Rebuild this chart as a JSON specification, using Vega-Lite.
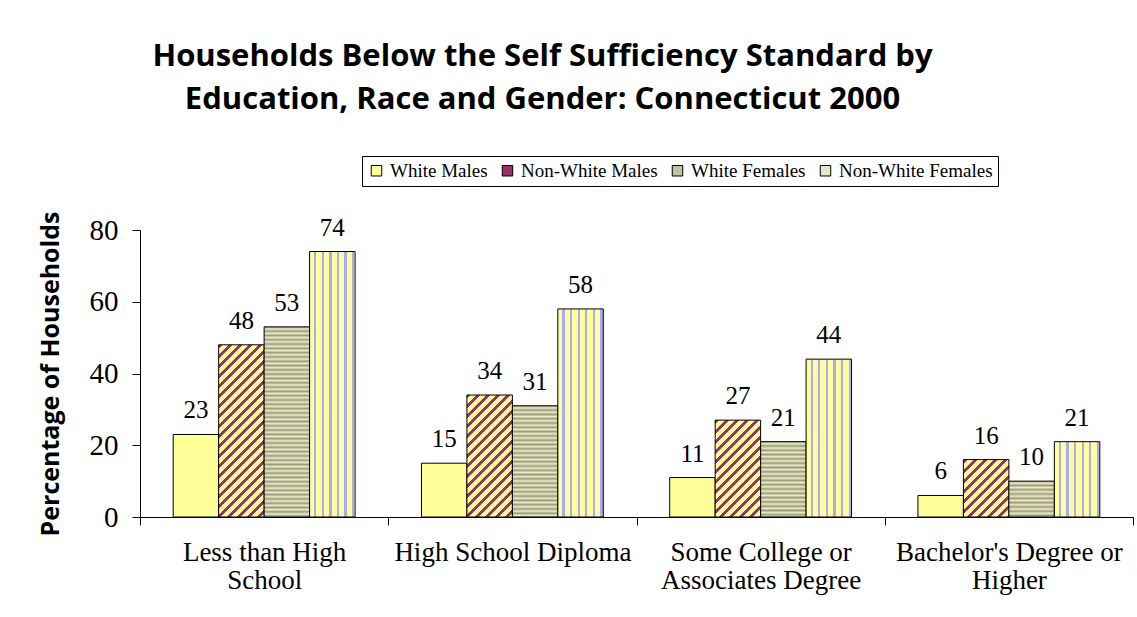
{
"$schema":"https://vega.github.io/schema/vega-lite/v6.json",
"width":993,"height":287,
"autosize":{"type":"none"},
"padding":{"left":140,"top":230,"right":4,"bottom":100},
"background":"white",
"title":{"text":["Households Below the Self Sufficiency Standard by","Education, Race and Gender: Connecticut 2000"],"anchor":"middle","dx":-94,"font":"Open Sans","fontSize":31,"fontWeight":"bold","color":"black","lineHeight":43,"offset":40},
"data":{"values":[
{"education":"Less than High School","group":"White Males","percent":23},
{"education":"Less than High School","group":"Non-White Males","percent":48},
{"education":"Less than High School","group":"White Females","percent":53},
{"education":"Less than High School","group":"Non-White Females","percent":74},
{"education":"High School Diploma","group":"White Males","percent":15},
{"education":"High School Diploma","group":"Non-White Males","percent":34},
{"education":"High School Diploma","group":"White Females","percent":31},
{"education":"High School Diploma","group":"Non-White Females","percent":58},
{"education":"Some College or Associates Degree","group":"White Males","percent":11},
{"education":"Some College or Associates Degree","group":"Non-White Males","percent":27},
{"education":"Some College or Associates Degree","group":"White Females","percent":21},
{"education":"Some College or Associates Degree","group":"Non-White Females","percent":44},
{"education":"Bachelor's Degree or Higher","group":"White Males","percent":6},
{"education":"Bachelor's Degree or Higher","group":"Non-White Males","percent":16},
{"education":"Bachelor's Degree or Higher","group":"White Females","percent":10},
{"education":"Bachelor's Degree or Higher","group":"Non-White Females","percent":21}
]},
"encoding":{
"x":{"field":"education","type":"nominal","sort":["Less than High School","High School Diploma","Some College or Associates Degree","Bachelor's Degree or Higher"],"scale":{"paddingInner":0,"paddingOuter":0},"axis":{"title":null,"labelAngle":0,"tickBand":"extent","labelExpr":"datum.label==='Less than High School'?['Less than High','School']:datum.label==='Some College or Associates Degree'?['Some College or','Associates Degree']:datum.label===\"Bachelor's Degree or Higher\"?[\"Bachelor's Degree or\",'Higher']:datum.label","labelFont":"Liberation Serif","labelFontSize":27,"labelLineHeight":28,"labelColor":"black","labelPadding":14,"labelLimit":0,"tickSize":8,"tickColor":"black","domainColor":"black"}},
"xOffset":{"field":"group","type":"nominal","sort":["White Males","Non-White Males","White Females","Non-White Females"],"scale":{"paddingInner":0,"paddingOuter":0.73}},
"y":{"field":"percent","type":"quantitative","scale":{"domain":[0,80]},"axis":{"values":[0,20,40,60,80],"grid":false,"title":"Percentage of Households","titleFont":"Open Sans","titleFontSize":25,"titleFontWeight":"bold","titleColor":"black","titlePadding":26,"labelFont":"Liberation Serif","labelFontSize":29,"labelColor":"black","labelPadding":14,"tickSize":8,"tickColor":"black","domainColor":"black"}}
},
"layer":[
{"mark":{"type":"bar","stroke":"black","strokeWidth":1},
"encoding":{"fill":{"field":"group","type":"nominal","scale":{"domain":["White Males","Non-White Males","White Females","Non-White Females"],"range":["#ffff99","#993366","#c3c3a1","#e6e6c8"]},
"legend":{"orient":"none","legendX":222,"legendY":-74,"direction":"horizontal","title":null,"strokeColor":"black","fillColor":"white","padding":5,"symbolType":"square","symbolSize":110,"symbolStrokeColor":"black","symbolStrokeWidth":1,"symbolOpacity":1,"labelFont":"Liberation Serif","labelFontSize":19,"labelColor":"black","labelOffset":4,"columnPadding":10},
"condition":[
{"test":"datum.group==='Non-White Females'","value":{"gradient":"linear","x1":0,"y1":0,"x2":1,"y2":0,"stops":[{"offset":0,"color":"#ff9"},{"offset":0.1,"color":"#ff9"},{"offset":0.1,"color":"#aaf"},{"offset":0.15,"color":"#aaf"},{"offset":0.15,"color":"#ff9"},{"offset":0.2667,"color":"#ff9"},{"offset":0.2667,"color":"#aaf"},{"offset":0.3167,"color":"#aaf"},{"offset":0.3167,"color":"#ff9"},{"offset":0.4333,"color":"#ff9"},{"offset":0.4333,"color":"#aaf"},{"offset":0.4833,"color":"#aaf"},{"offset":0.4833,"color":"#ff9"},{"offset":0.6,"color":"#ff9"},{"offset":0.6,"color":"#aaf"},{"offset":0.65,"color":"#aaf"},{"offset":0.65,"color":"#ff9"},{"offset":0.7667,"color":"#ff9"},{"offset":0.7667,"color":"#aaf"},{"offset":0.8167,"color":"#aaf"},{"offset":0.8167,"color":"#ff9"},{"offset":0.9333,"color":"#ff9"},{"offset":0.9333,"color":"#aaf"},{"offset":0.9833,"color":"#aaf"},{"offset":0.9833,"color":"#ff9"},{"offset":1,"color":"#ff9"}]}},
{"test":"datum.group==='Non-White Males'&&datum.percent===48","value":{"gradient":"linear","x1":0,"y1":0,"x2":0.358,"y2":1.357,"stops":[
{"offset":0,"color":"#936"},{"offset":0.016,"color":"#936"},{"offset":0.016,"color":"#ff9"},{"offset":0.04,"color":"#ff9"},
{"offset":0.04,"color":"#936"},{"offset":0.056,"color":"#936"},{"offset":0.056,"color":"#ff9"},{"offset":0.08,"color":"#ff9"},
{"offset":0.08,"color":"#936"},{"offset":0.096,"color":"#936"},{"offset":0.096,"color":"#ff9"},{"offset":0.12,"color":"#ff9"},
{"offset":0.12,"color":"#936"},{"offset":0.136,"color":"#936"},{"offset":0.136,"color":"#ff9"},{"offset":0.16,"color":"#ff9"},
{"offset":0.16,"color":"#936"},{"offset":0.176,"color":"#936"},{"offset":0.176,"color":"#ff9"},{"offset":0.2,"color":"#ff9"},
{"offset":0.2,"color":"#936"},{"offset":0.216,"color":"#936"},{"offset":0.216,"color":"#ff9"},{"offset":0.24,"color":"#ff9"},
{"offset":0.24,"color":"#936"},{"offset":0.256,"color":"#936"},{"offset":0.256,"color":"#ff9"},{"offset":0.28,"color":"#ff9"},
{"offset":0.28,"color":"#936"},{"offset":0.296,"color":"#936"},{"offset":0.296,"color":"#ff9"},{"offset":0.32,"color":"#ff9"},
{"offset":0.32,"color":"#936"},{"offset":0.336,"color":"#936"},{"offset":0.336,"color":"#ff9"},{"offset":0.36,"color":"#ff9"},
{"offset":0.36,"color":"#936"},{"offset":0.376,"color":"#936"},{"offset":0.376,"color":"#ff9"},{"offset":0.4,"color":"#ff9"},
{"offset":0.4,"color":"#936"},{"offset":0.416,"color":"#936"},{"offset":0.416,"color":"#ff9"},{"offset":0.44,"color":"#ff9"},
{"offset":0.44,"color":"#936"},{"offset":0.456,"color":"#936"},{"offset":0.456,"color":"#ff9"},{"offset":0.48,"color":"#ff9"},
{"offset":0.48,"color":"#936"},{"offset":0.496,"color":"#936"},{"offset":0.496,"color":"#ff9"},{"offset":0.52,"color":"#ff9"},
{"offset":0.52,"color":"#936"},{"offset":0.536,"color":"#936"},{"offset":0.536,"color":"#ff9"},{"offset":0.56,"color":"#ff9"},
{"offset":0.56,"color":"#936"},{"offset":0.576,"color":"#936"},{"offset":0.576,"color":"#ff9"},{"offset":0.6,"color":"#ff9"},
{"offset":0.6,"color":"#936"},{"offset":0.616,"color":"#936"},{"offset":0.616,"color":"#ff9"},{"offset":0.64,"color":"#ff9"},
{"offset":0.64,"color":"#936"},{"offset":0.656,"color":"#936"},{"offset":0.656,"color":"#ff9"},{"offset":0.68,"color":"#ff9"},
{"offset":0.68,"color":"#936"},{"offset":0.696,"color":"#936"},{"offset":0.696,"color":"#ff9"},{"offset":0.72,"color":"#ff9"},
{"offset":0.72,"color":"#936"},{"offset":0.736,"color":"#936"},{"offset":0.736,"color":"#ff9"},{"offset":0.76,"color":"#ff9"},
{"offset":0.76,"color":"#936"},{"offset":0.776,"color":"#936"},{"offset":0.776,"color":"#ff9"},{"offset":0.8,"color":"#ff9"},
{"offset":0.8,"color":"#936"},{"offset":0.816,"color":"#936"},{"offset":0.816,"color":"#ff9"},{"offset":0.84,"color":"#ff9"},
{"offset":0.84,"color":"#936"},{"offset":0.856,"color":"#936"},{"offset":0.856,"color":"#ff9"},{"offset":0.88,"color":"#ff9"}]}},
{"test":"datum.group==='Non-White Males'&&datum.percent===34","value":{"gradient":"linear","x1":0,"y1":0,"x2":0.67,"y2":1.8,"stops":[
{"offset":0,"color":"#936"},{"offset":0.016,"color":"#936"},{"offset":0.016,"color":"#ff9"},{"offset":0.04,"color":"#ff9"},
{"offset":0.04,"color":"#936"},{"offset":0.056,"color":"#936"},{"offset":0.056,"color":"#ff9"},{"offset":0.08,"color":"#ff9"},
{"offset":0.08,"color":"#936"},{"offset":0.096,"color":"#936"},{"offset":0.096,"color":"#ff9"},{"offset":0.12,"color":"#ff9"},
{"offset":0.12,"color":"#936"},{"offset":0.136,"color":"#936"},{"offset":0.136,"color":"#ff9"},{"offset":0.16,"color":"#ff9"},
{"offset":0.16,"color":"#936"},{"offset":0.176,"color":"#936"},{"offset":0.176,"color":"#ff9"},{"offset":0.2,"color":"#ff9"},
{"offset":0.2,"color":"#936"},{"offset":0.216,"color":"#936"},{"offset":0.216,"color":"#ff9"},{"offset":0.24,"color":"#ff9"},
{"offset":0.24,"color":"#936"},{"offset":0.256,"color":"#936"},{"offset":0.256,"color":"#ff9"},{"offset":0.28,"color":"#ff9"},
{"offset":0.28,"color":"#936"},{"offset":0.296,"color":"#936"},{"offset":0.296,"color":"#ff9"},{"offset":0.32,"color":"#ff9"},
{"offset":0.32,"color":"#936"},{"offset":0.336,"color":"#936"},{"offset":0.336,"color":"#ff9"},{"offset":0.36,"color":"#ff9"},
{"offset":0.36,"color":"#936"},{"offset":0.376,"color":"#936"},{"offset":0.376,"color":"#ff9"},{"offset":0.4,"color":"#ff9"},
{"offset":0.4,"color":"#936"},{"offset":0.416,"color":"#936"},{"offset":0.416,"color":"#ff9"},{"offset":0.44,"color":"#ff9"},
{"offset":0.44,"color":"#936"},{"offset":0.456,"color":"#936"},{"offset":0.456,"color":"#ff9"},{"offset":0.48,"color":"#ff9"},
{"offset":0.48,"color":"#936"},{"offset":0.496,"color":"#936"},{"offset":0.496,"color":"#ff9"},{"offset":0.52,"color":"#ff9"},
{"offset":0.52,"color":"#936"},{"offset":0.536,"color":"#936"},{"offset":0.536,"color":"#ff9"},{"offset":0.56,"color":"#ff9"},
{"offset":0.56,"color":"#936"},{"offset":0.576,"color":"#936"},{"offset":0.576,"color":"#ff9"},{"offset":0.6,"color":"#ff9"},
{"offset":0.6,"color":"#936"},{"offset":0.616,"color":"#936"},{"offset":0.616,"color":"#ff9"},{"offset":0.64,"color":"#ff9"},
{"offset":0.64,"color":"#936"},{"offset":0.656,"color":"#936"},{"offset":0.656,"color":"#ff9"},{"offset":0.68,"color":"#ff9"}]}},
{"test":"datum.group==='Non-White Males'&&datum.percent===27","value":{"gradient":"linear","x1":0,"y1":0,"x2":0.991,"y2":2.116,"stops":[
{"offset":0,"color":"#936"},{"offset":0.016,"color":"#936"},{"offset":0.016,"color":"#ff9"},{"offset":0.04,"color":"#ff9"},
{"offset":0.04,"color":"#936"},{"offset":0.056,"color":"#936"},{"offset":0.056,"color":"#ff9"},{"offset":0.08,"color":"#ff9"},
{"offset":0.08,"color":"#936"},{"offset":0.096,"color":"#936"},{"offset":0.096,"color":"#ff9"},{"offset":0.12,"color":"#ff9"},
{"offset":0.12,"color":"#936"},{"offset":0.136,"color":"#936"},{"offset":0.136,"color":"#ff9"},{"offset":0.16,"color":"#ff9"},
{"offset":0.16,"color":"#936"},{"offset":0.176,"color":"#936"},{"offset":0.176,"color":"#ff9"},{"offset":0.2,"color":"#ff9"},
{"offset":0.2,"color":"#936"},{"offset":0.216,"color":"#936"},{"offset":0.216,"color":"#ff9"},{"offset":0.24,"color":"#ff9"},
{"offset":0.24,"color":"#936"},{"offset":0.256,"color":"#936"},{"offset":0.256,"color":"#ff9"},{"offset":0.28,"color":"#ff9"},
{"offset":0.28,"color":"#936"},{"offset":0.296,"color":"#936"},{"offset":0.296,"color":"#ff9"},{"offset":0.32,"color":"#ff9"},
{"offset":0.32,"color":"#936"},{"offset":0.336,"color":"#936"},{"offset":0.336,"color":"#ff9"},{"offset":0.36,"color":"#ff9"},
{"offset":0.36,"color":"#936"},{"offset":0.376,"color":"#936"},{"offset":0.376,"color":"#ff9"},{"offset":0.4,"color":"#ff9"},
{"offset":0.4,"color":"#936"},{"offset":0.416,"color":"#936"},{"offset":0.416,"color":"#ff9"},{"offset":0.44,"color":"#ff9"},
{"offset":0.44,"color":"#936"},{"offset":0.456,"color":"#936"},{"offset":0.456,"color":"#ff9"},{"offset":0.48,"color":"#ff9"},
{"offset":0.48,"color":"#936"},{"offset":0.496,"color":"#936"},{"offset":0.496,"color":"#ff9"},{"offset":0.52,"color":"#ff9"},
{"offset":0.52,"color":"#936"},{"offset":0.536,"color":"#936"},{"offset":0.536,"color":"#ff9"},{"offset":0.56,"color":"#ff9"},
{"offset":0.56,"color":"#936"},{"offset":0.576,"color":"#936"},{"offset":0.576,"color":"#ff9"},{"offset":0.6,"color":"#ff9"}]}},
{"test":"datum.group==='Non-White Males'&&datum.percent===16","value":{"gradient":"linear","x1":0,"y1":0,"x2":2.119,"y2":2.679,"stops":[
{"offset":0,"color":"#936"},{"offset":0.016,"color":"#936"},{"offset":0.016,"color":"#ff9"},{"offset":0.04,"color":"#ff9"},
{"offset":0.04,"color":"#936"},{"offset":0.056,"color":"#936"},{"offset":0.056,"color":"#ff9"},{"offset":0.08,"color":"#ff9"},
{"offset":0.08,"color":"#936"},{"offset":0.096,"color":"#936"},{"offset":0.096,"color":"#ff9"},{"offset":0.12,"color":"#ff9"},
{"offset":0.12,"color":"#936"},{"offset":0.136,"color":"#936"},{"offset":0.136,"color":"#ff9"},{"offset":0.16,"color":"#ff9"},
{"offset":0.16,"color":"#936"},{"offset":0.176,"color":"#936"},{"offset":0.176,"color":"#ff9"},{"offset":0.2,"color":"#ff9"},
{"offset":0.2,"color":"#936"},{"offset":0.216,"color":"#936"},{"offset":0.216,"color":"#ff9"},{"offset":0.24,"color":"#ff9"},
{"offset":0.24,"color":"#936"},{"offset":0.256,"color":"#936"},{"offset":0.256,"color":"#ff9"},{"offset":0.28,"color":"#ff9"},
{"offset":0.28,"color":"#936"},{"offset":0.296,"color":"#936"},{"offset":0.296,"color":"#ff9"},{"offset":0.32,"color":"#ff9"},
{"offset":0.32,"color":"#936"},{"offset":0.336,"color":"#936"},{"offset":0.336,"color":"#ff9"},{"offset":0.36,"color":"#ff9"},
{"offset":0.36,"color":"#936"},{"offset":0.376,"color":"#936"},{"offset":0.376,"color":"#ff9"},{"offset":0.4,"color":"#ff9"},
{"offset":0.4,"color":"#936"},{"offset":0.416,"color":"#936"},{"offset":0.416,"color":"#ff9"},{"offset":0.44,"color":"#ff9"}]}},
{"test":"datum.group==='White Females'&&datum.percent===53","value":{"gradient":"linear","x1":0,"y1":0,"x2":0,"y2":1.131,"stops":[
{"offset":0,"color":"#998"},{"offset":0.01,"color":"#eeb"},{"offset":0.02,"color":"#998"},{"offset":0.03,"color":"#eeb"},{"offset":0.04,"color":"#998"},{"offset":0.05,"color":"#eeb"},{"offset":0.06,"color":"#998"},{"offset":0.07,"color":"#eeb"},{"offset":0.08,"color":"#998"},{"offset":0.09,"color":"#eeb"},
{"offset":0.1,"color":"#998"},{"offset":0.11,"color":"#eeb"},{"offset":0.12,"color":"#998"},{"offset":0.13,"color":"#eeb"},{"offset":0.14,"color":"#998"},{"offset":0.15,"color":"#eeb"},{"offset":0.16,"color":"#998"},{"offset":0.17,"color":"#eeb"},{"offset":0.18,"color":"#998"},{"offset":0.19,"color":"#eeb"},
{"offset":0.2,"color":"#998"},{"offset":0.21,"color":"#eeb"},{"offset":0.22,"color":"#998"},{"offset":0.23,"color":"#eeb"},{"offset":0.24,"color":"#998"},{"offset":0.25,"color":"#eeb"},{"offset":0.26,"color":"#998"},{"offset":0.27,"color":"#eeb"},{"offset":0.28,"color":"#998"},{"offset":0.29,"color":"#eeb"},
{"offset":0.3,"color":"#998"},{"offset":0.31,"color":"#eeb"},{"offset":0.32,"color":"#998"},{"offset":0.33,"color":"#eeb"},{"offset":0.34,"color":"#998"},{"offset":0.35,"color":"#eeb"},{"offset":0.36,"color":"#998"},{"offset":0.37,"color":"#eeb"},{"offset":0.38,"color":"#998"},{"offset":0.39,"color":"#eeb"},
{"offset":0.4,"color":"#998"},{"offset":0.41,"color":"#eeb"},{"offset":0.42,"color":"#998"},{"offset":0.43,"color":"#eeb"},{"offset":0.44,"color":"#998"},{"offset":0.45,"color":"#eeb"},{"offset":0.46,"color":"#998"},{"offset":0.47,"color":"#eeb"},{"offset":0.48,"color":"#998"},{"offset":0.49,"color":"#eeb"},
{"offset":0.5,"color":"#998"},{"offset":0.51,"color":"#eeb"},{"offset":0.52,"color":"#998"},{"offset":0.53,"color":"#eeb"},{"offset":0.54,"color":"#998"},{"offset":0.55,"color":"#eeb"},{"offset":0.56,"color":"#998"},{"offset":0.57,"color":"#eeb"},{"offset":0.58,"color":"#998"},{"offset":0.59,"color":"#eeb"},
{"offset":0.6,"color":"#998"},{"offset":0.61,"color":"#eeb"},{"offset":0.62,"color":"#998"},{"offset":0.63,"color":"#eeb"},{"offset":0.64,"color":"#998"},{"offset":0.65,"color":"#eeb"},{"offset":0.66,"color":"#998"},{"offset":0.67,"color":"#eeb"},{"offset":0.68,"color":"#998"},{"offset":0.69,"color":"#eeb"},
{"offset":0.7,"color":"#998"},{"offset":0.71,"color":"#eeb"},{"offset":0.72,"color":"#998"},{"offset":0.73,"color":"#eeb"},{"offset":0.74,"color":"#998"},{"offset":0.75,"color":"#eeb"},{"offset":0.76,"color":"#998"},{"offset":0.77,"color":"#eeb"},{"offset":0.78,"color":"#998"},{"offset":0.79,"color":"#eeb"},
{"offset":0.8,"color":"#998"},{"offset":0.81,"color":"#eeb"},{"offset":0.82,"color":"#998"},{"offset":0.83,"color":"#eeb"},{"offset":0.84,"color":"#998"},{"offset":0.85,"color":"#eeb"},{"offset":0.86,"color":"#998"},{"offset":0.87,"color":"#eeb"},{"offset":0.88,"color":"#998"},{"offset":0.89,"color":"#eeb"},{"offset":0.9,"color":"#998"}]}},
{"test":"datum.group==='White Females'&&datum.percent===31","value":{"gradient":"linear","x1":0,"y1":0,"x2":0,"y2":1.933,"stops":[
{"offset":0,"color":"#998"},{"offset":0.01,"color":"#eeb"},{"offset":0.02,"color":"#998"},{"offset":0.03,"color":"#eeb"},{"offset":0.04,"color":"#998"},{"offset":0.05,"color":"#eeb"},{"offset":0.06,"color":"#998"},{"offset":0.07,"color":"#eeb"},{"offset":0.08,"color":"#998"},{"offset":0.09,"color":"#eeb"},
{"offset":0.1,"color":"#998"},{"offset":0.11,"color":"#eeb"},{"offset":0.12,"color":"#998"},{"offset":0.13,"color":"#eeb"},{"offset":0.14,"color":"#998"},{"offset":0.15,"color":"#eeb"},{"offset":0.16,"color":"#998"},{"offset":0.17,"color":"#eeb"},{"offset":0.18,"color":"#998"},{"offset":0.19,"color":"#eeb"},
{"offset":0.2,"color":"#998"},{"offset":0.21,"color":"#eeb"},{"offset":0.22,"color":"#998"},{"offset":0.23,"color":"#eeb"},{"offset":0.24,"color":"#998"},{"offset":0.25,"color":"#eeb"},{"offset":0.26,"color":"#998"},{"offset":0.27,"color":"#eeb"},{"offset":0.28,"color":"#998"},{"offset":0.29,"color":"#eeb"},
{"offset":0.3,"color":"#998"},{"offset":0.31,"color":"#eeb"},{"offset":0.32,"color":"#998"},{"offset":0.33,"color":"#eeb"},{"offset":0.34,"color":"#998"},{"offset":0.35,"color":"#eeb"},{"offset":0.36,"color":"#998"},{"offset":0.37,"color":"#eeb"},{"offset":0.38,"color":"#998"},{"offset":0.39,"color":"#eeb"},
{"offset":0.4,"color":"#998"},{"offset":0.41,"color":"#eeb"},{"offset":0.42,"color":"#998"},{"offset":0.43,"color":"#eeb"},{"offset":0.44,"color":"#998"},{"offset":0.45,"color":"#eeb"},{"offset":0.46,"color":"#998"},{"offset":0.47,"color":"#eeb"},{"offset":0.48,"color":"#998"},{"offset":0.49,"color":"#eeb"},
{"offset":0.5,"color":"#998"},{"offset":0.51,"color":"#eeb"},{"offset":0.52,"color":"#998"},{"offset":0.53,"color":"#eeb"},{"offset":0.54,"color":"#998"}]}},
{"test":"datum.group==='White Females'&&datum.percent===21","value":{"gradient":"linear","x1":0,"y1":0,"x2":0,"y2":2.855,"stops":[
{"offset":0,"color":"#998"},{"offset":0.01,"color":"#eeb"},{"offset":0.02,"color":"#998"},{"offset":0.03,"color":"#eeb"},{"offset":0.04,"color":"#998"},{"offset":0.05,"color":"#eeb"},{"offset":0.06,"color":"#998"},{"offset":0.07,"color":"#eeb"},{"offset":0.08,"color":"#998"},{"offset":0.09,"color":"#eeb"},
{"offset":0.1,"color":"#998"},{"offset":0.11,"color":"#eeb"},{"offset":0.12,"color":"#998"},{"offset":0.13,"color":"#eeb"},{"offset":0.14,"color":"#998"},{"offset":0.15,"color":"#eeb"},{"offset":0.16,"color":"#998"},{"offset":0.17,"color":"#eeb"},{"offset":0.18,"color":"#998"},{"offset":0.19,"color":"#eeb"},
{"offset":0.2,"color":"#998"},{"offset":0.21,"color":"#eeb"},{"offset":0.22,"color":"#998"},{"offset":0.23,"color":"#eeb"},{"offset":0.24,"color":"#998"},{"offset":0.25,"color":"#eeb"},{"offset":0.26,"color":"#998"},{"offset":0.27,"color":"#eeb"},{"offset":0.28,"color":"#998"},{"offset":0.29,"color":"#eeb"},
{"offset":0.3,"color":"#998"},{"offset":0.31,"color":"#eeb"},{"offset":0.32,"color":"#998"},{"offset":0.33,"color":"#eeb"},{"offset":0.34,"color":"#998"},{"offset":0.35,"color":"#eeb"},{"offset":0.36,"color":"#998"},{"offset":0.37,"color":"#eeb"},{"offset":0.38,"color":"#998"}]}},
{"test":"datum.group==='White Females'&&datum.percent===10","value":{"gradient":"linear","x1":0,"y1":0,"x2":0,"y2":5.989,"stops":[
{"offset":0,"color":"#998"},{"offset":0.01,"color":"#eeb"},{"offset":0.02,"color":"#998"},{"offset":0.03,"color":"#eeb"},{"offset":0.04,"color":"#998"},{"offset":0.05,"color":"#eeb"},{"offset":0.06,"color":"#998"},{"offset":0.07,"color":"#eeb"},{"offset":0.08,"color":"#998"},{"offset":0.09,"color":"#eeb"},
{"offset":0.1,"color":"#998"},{"offset":0.11,"color":"#eeb"},{"offset":0.12,"color":"#998"},{"offset":0.13,"color":"#eeb"},{"offset":0.14,"color":"#998"},{"offset":0.15,"color":"#eeb"},{"offset":0.16,"color":"#998"},{"offset":0.17,"color":"#eeb"},{"offset":0.18,"color":"#998"}]}}
]}}},
{"mark":{"type":"text","baseline":"alphabetic","dy":-16,"font":"Liberation Serif","fontSize":25,"fill":"black"},
"encoding":{"text":{"field":"percent","type":"quantitative"}}}
],
"config":{"view":{"stroke":null},"axis":{"domainWidth":1,"tickWidth":1}}
}
